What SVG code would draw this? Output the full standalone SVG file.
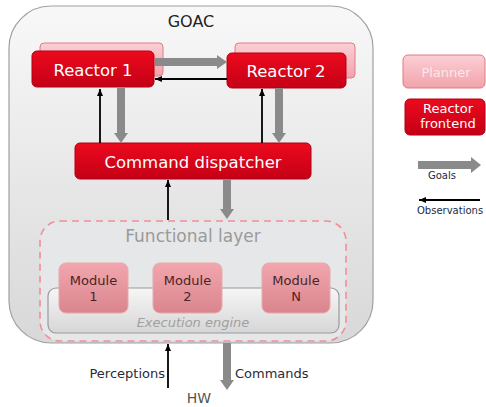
<svg xmlns="http://www.w3.org/2000/svg" width="486" height="407" viewBox="0 0 486 407">
<defs>
<linearGradient id="gGoac" x1="0" y1="0" x2="0" y2="1"><stop offset="0" stop-color="#f8f8f8"/><stop offset="1" stop-color="#d8d8d8"/></linearGradient>
<linearGradient id="gRed" x1="0" y1="0" x2="0" y2="1"><stop offset="0" stop-color="#ec0a1e"/><stop offset="1" stop-color="#c40016"/></linearGradient>
<linearGradient id="gPale" x1="0" y1="0" x2="0" y2="1"><stop offset="0" stop-color="#fbd0d5"/><stop offset="1" stop-color="#f2a2ab"/></linearGradient>
<linearGradient id="gMod" x1="0" y1="0" x2="0" y2="1"><stop offset="0" stop-color="#f2a6ad"/><stop offset="1" stop-color="#d9858e"/></linearGradient>
<linearGradient id="gExec" x1="0" y1="0" x2="0" y2="1"><stop offset="0" stop-color="#f6f6f6"/><stop offset="1" stop-color="#d6d6d6"/></linearGradient>
<marker id="bh" markerUnits="userSpaceOnUse" markerWidth="8" markerHeight="8" refX="7" refY="4" orient="auto"><path d="M0,1 L7,4 L0,7 Z" fill="#000"/></marker>
</defs>
<style>
text{font-family:"DejaVu Sans","Liberation Sans",sans-serif}
.red{fill:url(#gRed);stroke:#b00014;stroke-width:1}
.pale{fill:url(#gPale);stroke:#e07a86;stroke-width:1}
.mod{fill:url(#gMod);stroke:#e7a9ae;stroke-width:1}
.wt{fill:#fff;font-size:16.5px;text-anchor:middle}
.mt{fill:#4a2424;font-size:13px;text-anchor:middle}
.ga{fill:#8a8a8a}
.ba{stroke:#000;stroke-width:1.8;fill:none;marker-end:url(#bh)}
.lab{fill:#2a2a3a;font-size:13px}
.leg{fill:#1e2a44;font-size:10px}
</style>

<g id="goac">
<rect x="9" y="6" width="364" height="337" rx="42" fill="url(#gGoac)" stroke="#a0a0a0" stroke-width="1.2"/>
<text x="191" y="27" font-size="16" fill="#222" text-anchor="middle">GOAC</text>
</g>

<g id="reactor1">
<rect class="pale" x="40" y="43" width="123" height="33" rx="4"/>
<rect class="red" x="32" y="51" width="122" height="36" rx="5"/>
<text class="wt" x="93" y="76">Reactor 1</text>
</g>

<g id="reactor2">
<rect class="pale" x="235" y="43" width="120" height="35" rx="4"/>
<rect class="red" x="227" y="53" width="119" height="35" rx="5"/>
<text class="wt" x="286" y="77">Reactor 2</text>
</g>

<g id="dispatcher">
<rect class="red" x="75" y="143" width="236" height="36" rx="5"/>
<text class="wt" x="193" y="168">Command dispatcher</text>
</g>

<g id="functional-layer">
<rect x="40" y="221" width="306" height="120" rx="20" fill="#e6e7e8" stroke="#ef8f96" stroke-width="1.6" stroke-dasharray="7,5"/>
<text x="193" y="242" font-size="17" fill="#9a9a9a" text-anchor="middle">Functional layer</text>
</g>

<g id="execution-engine">
<rect x="48" y="288" width="291" height="45" rx="8" fill="url(#gExec)" stroke="#9a9a9a" stroke-width="1.2"/>
<text x="193" y="327" font-size="13" font-style="italic" fill="#a0a0a0" text-anchor="middle">Execution engine</text>
</g>

<g id="module1">
<rect class="mod" x="59" y="263" width="69" height="50" rx="7"/>
<text class="mt" x="93.5" y="285">Module</text>
<text class="mt" x="93.5" y="301">1</text>
</g>
<g id="module2">
<rect class="mod" x="153" y="263" width="69" height="50" rx="7"/>
<text class="mt" x="187.5" y="285">Module</text>
<text class="mt" x="187.5" y="301">2</text>
</g>
<g id="moduleN">
<rect class="mod" x="262" y="263" width="68" height="50" rx="7"/>
<text class="mt" x="296" y="285">Module</text>
<text class="mt" x="296" y="301">N</text>
</g>

<g id="connectors">
<polygon class="ga" points="155,58 217,58 217,55 227,62 217,69 217,66 155,66"/>
<line class="ba" x1="227" y1="79" x2="155" y2="79"/>
<polygon class="ga" points="117,88 125,88 125,133 128,133 121,143 114,133 117,133"/>
<line class="ba" x1="100" y1="143" x2="100" y2="89"/>
<polygon class="ga" points="275,88 283,88 283,133 286,133 279,143 272,133 275,133"/>
<line class="ba" x1="262" y1="143" x2="262" y2="89"/>
<polygon class="ga" points="223,179 231,179 231,209 234,209 227,219 220,209 223,209"/>
<line class="ba" x1="168" y1="220" x2="168" y2="180"/>
<polygon class="ga" points="223,343 231,343 231,380 234,380 227,390 220,380 223,380"/>
<line class="ba" x1="168" y1="388" x2="168" y2="344"/>
</g>

<g id="io-labels">
<text class="lab" x="165" y="378" text-anchor="end">Perceptions</text>
<text class="lab" x="235" y="378">Commands</text>
<text x="199" y="403" font-size="14" fill="#555" text-anchor="middle">HW</text>
</g>

<g id="legend">
<g id="legend-planner">
<rect class="pale" x="403" y="55" width="82" height="33" rx="5"/>
<text x="446" y="77" font-size="13" fill="#fde6e9" text-anchor="middle">Planner</text>
</g>
<g id="legend-reactor">
<rect class="red" x="405" y="99" width="80" height="36" rx="5"/>
<text x="448" y="113" font-size="13" fill="#fff" text-anchor="middle">Reactor</text>
<text x="448" y="128" font-size="13" fill="#fff" text-anchor="middle">frontend</text>
</g>
<g id="legend-goals">
<polygon class="ga" points="418,161 471,161 471,157 481,165 471,173 471,169 418,169"/>
<text class="leg" x="442" y="179" text-anchor="middle">Goals</text>
</g>
<g id="legend-observations">
<line class="ba" x1="480" y1="200" x2="419" y2="200"/>
<text class="leg" x="417" y="214">Observations</text>
</g>
</g>
</svg>
